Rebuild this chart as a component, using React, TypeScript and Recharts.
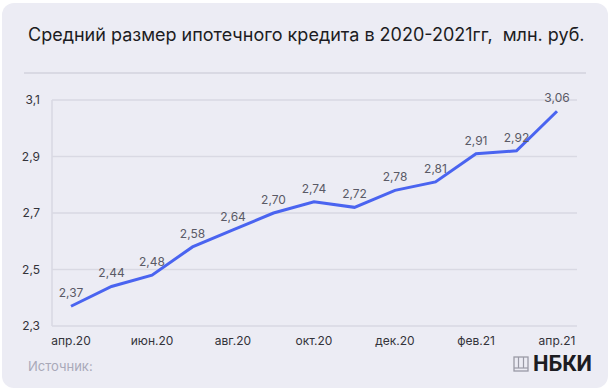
import { LineChart, Line, XAxis, YAxis, CartesianGrid, LabelList } from "recharts";

const months = [
  "апр.20", "май.20", "июн.20", "июл.20", "авг.20", "сен.20", "окт.20",
  "ноя.20", "дек.20", "янв.21", "фев.21", "мар.21", "апр.21",
];
const avgLoan = [2.37, 2.44, 2.48, 2.58, 2.64, 2.7, 2.74, 2.72, 2.78, 2.81, 2.91, 2.92, 3.06];
const yTicks = [2.3, 2.5, 2.7, 2.9, 3.1];

const data = months.map((m, i) => ({ month: m, value: avgLoan[i] }));

const FONT = "Inter, 'Noto Sans', sans-serif";
const GRID = "#d9d9e3";

const comma = (v: number, digits: number) => v.toFixed(digits).replace(".", ",");

export default function App() {
  return (
    <div
      style={{
        position: "absolute",
        left: 0,
        top: 0,
        width: 611,
        height: 391,
        background: "#ffffff",
        fontFamily: FONT,
      }}
    >
      <div
        style={{
          position: "absolute",
          left: 2,
          top: 3,
          width: 606,
          height: 385,
          borderRadius: 12,
          background: "#ececf4",
        }}
      />
      <div
        style={{
          position: "absolute",
          left: 28,
          top: 24,
          fontSize: 18,
          color: "#1c1c22",
          whiteSpace: "pre",
        }}
      >
        {"Средний размер ипотечного кредита в 2020-2021гг,  млн. руб."}
      </div>
      <div
        style={{
          position: "absolute",
          left: 24,
          top: 72,
          width: 562,
          height: 2,
          background: GRID,
        }}
      />
      <div style={{ position: "absolute", left: 0, top: 0 }}>
        <LineChart
          width={611}
          height={391}
          data={data}
          margin={{ top: 100, right: 34, bottom: 35, left: 0 }}
        >
          <CartesianGrid vertical={false} stroke={GRID} strokeWidth={1.5} />
          <XAxis
            dataKey="month"
            interval={1}
            axisLine={false}
            tickLine={false}
            tickMargin={4}
            height={30}
            padding={{ left: 19, right: 20 }}
            tick={{ fill: "#33333a", fontSize: 12, fontFamily: FONT }}
          />
          <YAxis
            domain={[2.3, 3.1]}
            ticks={yTicks}
            width={52}
            axisLine={{ stroke: GRID, strokeWidth: 1.5 }}
            tickLine={false}
            tickMargin={6}
            tickFormatter={(v: number) => comma(v, 1)}
            tick={{ fill: "#33333a", fontSize: 12, fontFamily: FONT }}
          />
          <Line
            type="linear"
            dataKey="value"
            stroke="#4a64f0"
            strokeWidth={3}
            dot={false}
            isAnimationActive={false}
          >
            <LabelList
              dataKey="value"
              position="top"
              offset={9}
              formatter={(v: number) => comma(v, 2)}
              style={{ fill: "#5a5a66", fontSize: 12, fontFamily: FONT }}
            />
          </Line>
        </LineChart>
      </div>
      <div
        style={{
          position: "absolute",
          left: 28,
          top: 358,
          fontSize: 13,
          color: "#a9a9b9",
        }}
      >
        Источник:
      </div>
      <svg
        style={{ position: "absolute", left: 513, top: 356 }}
        width={16}
        height={16}
        viewBox="0 0 16 16"
      >
        <rect x={1} y={1} width={14} height={14} fill="none" stroke="#9a9aa6" strokeWidth={1.3} />
        <line x1={5.5} y1={1} x2={5.5} y2={12} stroke="#9a9aa6" strokeWidth={1.2} />
        <line x1={10.5} y1={1} x2={10.5} y2={12} stroke="#9a9aa6" strokeWidth={1.2} />
        <line x1={1} y1={12} x2={15} y2={12} stroke="#9a9aa6" strokeWidth={1.2} />
      </svg>
      <div
        style={{
          position: "absolute",
          left: 533,
          top: 351,
          fontSize: 22,
          fontWeight: 700,
          color: "#1c1c22",
          fontFamily: "Roboto, Inter, sans-serif",
        }}
      >
        НБКИ
      </div>
    </div>
  );
}
